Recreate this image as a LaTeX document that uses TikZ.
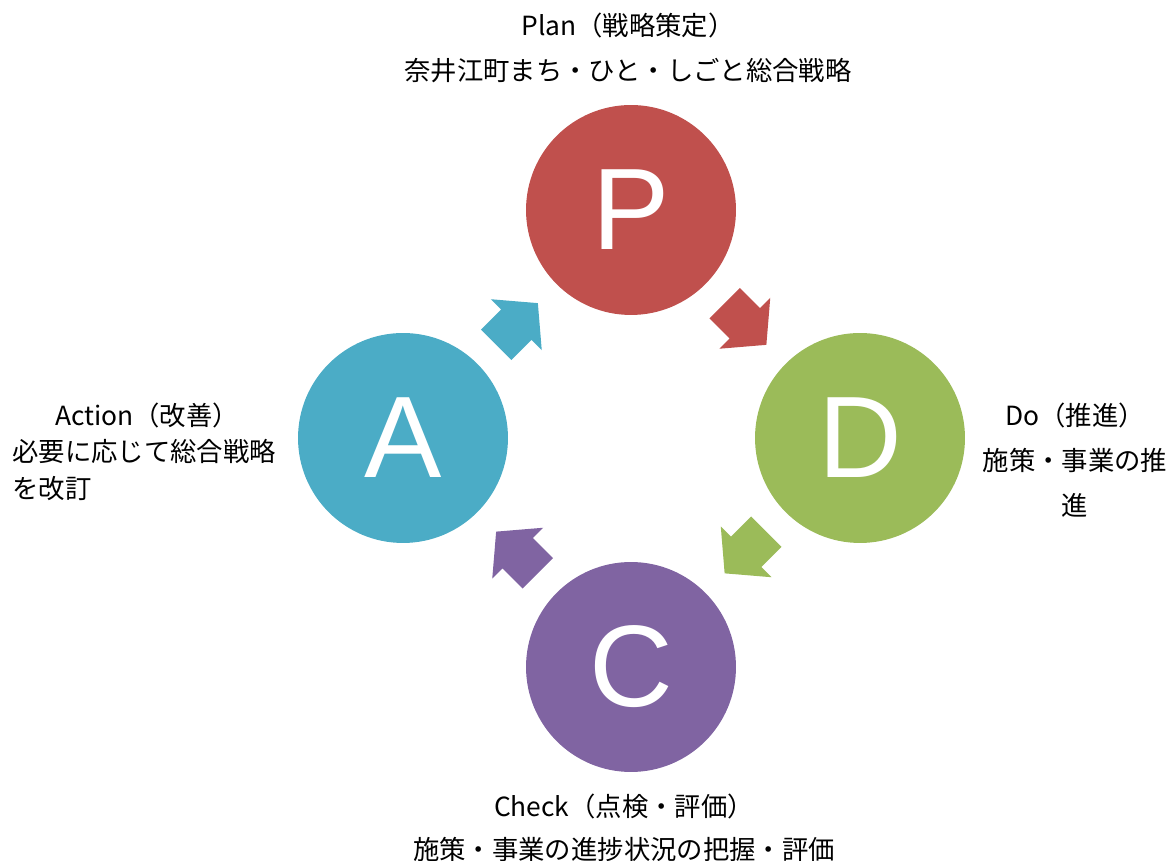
\documentclass[tikz,border=0pt]{standalone}
\usepackage{fontspec}
\setmainfont{Noto Sans CJK JP}
\newfontfamily\letterfont{Liberation Sans}
\usepackage{tikz}
\usetikzlibrary{positioning}
\usetikzlibrary{calc}
\definecolor{plancol}{HTML}{C0504D}
\definecolor{docol}{HTML}{9BBB59}
\definecolor{checkcol}{HTML}{8064A2}
\definecolor{actcol}{HTML}{4BACC6}
\tikzset{
  stage/.style={circle, inner sep=0pt, minimum size=4.2cm, text=white,
    font=\letterfont\fontsize{66}{66}\selectfont},
  cycarrow/.pic={\fill[pic actions] (-29.5,-21.5) -- (-1,-21.5) -- (-1,-36)
    -- (29.5,0) -- (-1,36) -- (-1,21.5) -- (-29.5,21.5) -- cycle;},
  caption/.style={inner sep=0pt, align=center, font=\fontsize{15}{25.5}\selectfont}
}
\begin{document}
\begin{tikzpicture}[x=0.02cm,y=0.02cm]
\useasboundingbox (0,0) rectangle (1173,861);
\node[stage, fill=plancol] (p) at (631,651) {P};
\node[stage, fill=docol] (d) at (860,423) {D};
\node[stage, fill=checkcol] (c) at (631,194) {C};
\node[stage, fill=actcol] (a) at (403,423) {A};
%arrows between the stages
\pic[fill=plancol, rotate=-45] (pd) at ($(p)!0.5!(d)$) {cycarrow};
\pic[fill=docol, rotate=-135] (dc) at ($(d)!0.5!(c)$) {cycarrow};
\pic[fill=checkcol, rotate=135] (ca) at ($(c)!0.5!(a)$) {cycarrow};
\pic[fill=actcol, rotate=45] (ap) at ($(a)!0.5!(p)$) {cycarrow};
%captions
\node[caption] (plan) at (628,813) {Plan（戦略策定）\\奈井江町まち・ひと・しごと総合戦略};
\node[caption] (do) at (1075,401) {Do（推進）\\施策・事業の推\\進};
\node[caption, font=\fontsize{15}{24.5}\selectfont] (check) at (624,33) {Check（点検・評価）\\施策・事業の進捗状況の把握・評価};
\node[caption] (action) at (147,446) {Action（改善）};
\node[caption, align=left, anchor=west, font=\fontsize{15}{20.5}\selectfont] (acttext) at (12,391) {必要に応じて総合戦略\\を改訂};
\end{tikzpicture}
\end{document}
